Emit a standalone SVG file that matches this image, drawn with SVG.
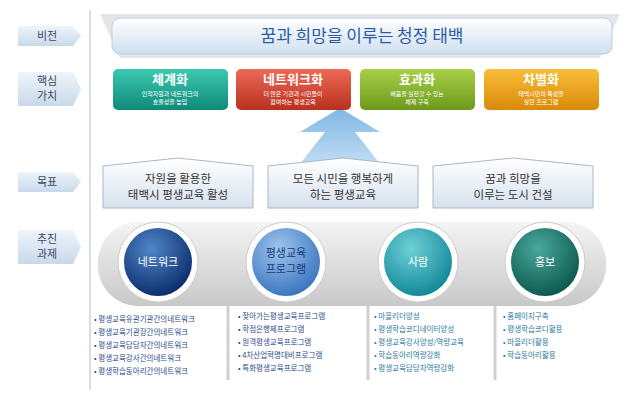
<svg xmlns="http://www.w3.org/2000/svg" width="631" height="400" viewBox="0 0 631 400">
<defs>
<linearGradient id="lab" x1="0" y1="0" x2="0" y2="1"><stop offset="0" stop-color="#eef4fa"/><stop offset="1" stop-color="#c9d9ea"/></linearGradient>
<linearGradient id="vis" x1="0" y1="0" x2="0" y2="1"><stop offset="0" stop-color="#ffffff"/><stop offset="1" stop-color="#cfdff0"/></linearGradient>
<linearGradient id="g1" x1="0" y1="0" x2="0" y2="1"><stop offset="0" stop-color="#3cc9b0"/><stop offset="1" stop-color="#0e8a78"/></linearGradient>
<linearGradient id="g2" x1="0" y1="0" x2="0" y2="1"><stop offset="0" stop-color="#ee6a55"/><stop offset="1" stop-color="#b8301f"/></linearGradient>
<linearGradient id="g3" x1="0" y1="0" x2="0" y2="1"><stop offset="0" stop-color="#a8d048"/><stop offset="1" stop-color="#6c9a1c"/></linearGradient>
<linearGradient id="g4" x1="0" y1="0" x2="0" y2="1"><stop offset="0" stop-color="#f8be3a"/><stop offset="1" stop-color="#d98a08"/></linearGradient>
<linearGradient id="arr" x1="0" y1="1" x2="0" y2="0"><stop offset="0" stop-color="#ffffff"/><stop offset="1" stop-color="#7fb6e6"/></linearGradient>
<linearGradient id="goal" x1="0" y1="0" x2="0" y2="1"><stop offset="0" stop-color="#ffffff"/><stop offset="1" stop-color="#d7e2ee"/></linearGradient>
<linearGradient id="plat" x1="0" y1="0" x2="0" y2="1"><stop offset="0" stop-color="#f4f4f4"/><stop offset="1" stop-color="#c8c8c8"/></linearGradient>
<radialGradient id="c1" cx="0.4" cy="0.3" r="0.7"><stop offset="0" stop-color="#4f86c8"/><stop offset="1" stop-color="#0d2f6e"/></radialGradient>
<radialGradient id="c2" cx="0.4" cy="0.3" r="0.7"><stop offset="0" stop-color="#9fc4ec"/><stop offset="1" stop-color="#3c78c0"/></radialGradient>
<radialGradient id="c3" cx="0.4" cy="0.3" r="0.7"><stop offset="0" stop-color="#6fd0d8"/><stop offset="1" stop-color="#148a9a"/></radialGradient>
<radialGradient id="c4" cx="0.4" cy="0.3" r="0.7"><stop offset="0" stop-color="#4aa89a"/><stop offset="1" stop-color="#0d5a50"/></radialGradient>
</defs>
<style>
text{font-family:"Noto Sans CJK KR","Noto Sans",sans-serif}
.lt{font-size:11px;fill:#3a4a6a;text-anchor:middle}
.vt{font-size:13px;font-weight:bold;fill:#fff;text-anchor:middle}
.vs{font-size:6px;fill:#fff;text-anchor:middle}
.gt{font-size:11.5px;fill:#333;text-anchor:middle}
.ct{font-size:11px;fill:#fff;text-anchor:middle}
.li{font-size:7.5px;fill:#2a4a8a}
.li2{font-size:7.5px;fill:#2a7a9a}
</style>
<rect width="631" height="400" fill="#fff"/>
<g id="labels">
<path d="M18,26 h55 l8,10 l-8,10 h-55 z" fill="url(#lab)"/><text class="lt" x="47" y="40">비전</text>
<path d="M18,72 h55 l8,17 l-8,17 h-55 z" fill="url(#lab)"/><text class="lt" x="47" y="85">핵심</text><text class="lt" x="47" y="100">가치</text>
<path d="M18,172 h55 l8,10 l-8,10 h-55 z" fill="url(#lab)"/><text class="lt" x="47" y="186">목표</text>
<path d="M18,230 h55 l8,17 l-8,17 h-55 z" fill="url(#lab)"/><text class="lt" x="47" y="243">추진</text><text class="lt" x="47" y="258">과제</text>
<line x1="90" y1="10" x2="90" y2="390" stroke="#c8d4e2" stroke-width="1.5"/>
</g>
<g id="vision">
<path d="M100,14 L620,14 L600,58 L120,58 Z" fill="#e6e6e6"/>
<rect x="112" y="18" width="500" height="36" rx="8" fill="url(#vis)" stroke="#b8cde4"/>
<text x="362" y="42" font-size="17" fill="#2a5aa8" text-anchor="middle">꿈과 희망을 이루는 청정 태백</text>
</g>
<g id="arrow">
<path d="M260,215 L325,132 L300,132 L340,108 L380,132 L355,132 L420,215 Z" fill="url(#arr)"/>
</g>
<g id="values">
<rect x="113" y="69" width="115" height="41" rx="5" fill="url(#g1)"/><text class="vt" x="170" y="84">체계화</text><text class="vs" x="170" y="96">인적자원과 네트워크의</text><text class="vs" x="170" y="104">효율성을 높임</text>
<rect x="236" y="69" width="115" height="41" rx="5" fill="url(#g2)"/><text class="vt" x="293" y="84">네트워크화</text><text class="vs" x="293" y="96">더 많은 기관과 시민들이</text><text class="vs" x="293" y="104">참여하는 평생교육</text>
<rect x="360" y="69" width="115" height="41" rx="5" fill="url(#g3)"/><text class="vt" x="417" y="84">효과화</text><text class="vs" x="417" y="96">배움을 실천할 수 있는</text><text class="vs" x="417" y="104">체제 구축</text>
<rect x="484" y="69" width="115" height="41" rx="5" fill="url(#g4)"/><text class="vt" x="541" y="84">차별화</text><text class="vs" x="541" y="96">태백시민의 특성을</text><text class="vs" x="541" y="104">살린 프로그램</text>
</g>
<g id="goals">
<path d="M103,166 L178,158 L253,166 L253,208 L103,208 Z" fill="url(#goal)" stroke="#aab8c8"/>
<text class="gt" x="178" y="183">자원을 활용한</text><text class="gt" x="178" y="199">태백시 평생교육 활성</text>
<path d="M268,166 L343,158 L418,166 L418,208 L268,208 Z" fill="url(#goal)" stroke="#aab8c8"/>
<text class="gt" x="343" y="183">모든 시민을 행복하게</text><text class="gt" x="343" y="199">하는 평생교육</text>
<path d="M433,166 L513,158 L593,166 L593,208 L433,208 Z" fill="url(#goal)" stroke="#aab8c8"/>
<text class="gt" x="513" y="183">꿈과 희망을</text><text class="gt" x="513" y="199">이루는 도시 건설</text>
</g>
<g id="platform">
<rect x="98" y="222" width="508" height="84" rx="40" fill="url(#plat)"/>
<line x1="228" y1="306" x2="228" y2="380" stroke="#d0d0d0" stroke-width="3"/>
<line x1="368" y1="306" x2="368" y2="380" stroke="#d0d0d0" stroke-width="3"/>
<line x1="495" y1="306" x2="495" y2="380" stroke="#d0d0d0" stroke-width="3"/>
</g>
<g id="n1"><circle cx="158" cy="262" r="40" fill="#fff" stroke="#ccc"/><circle cx="158" cy="262" r="34" fill="url(#c1)"/><text class="ct" x="158" y="266">네트워크</text></g>
<g id="n2"><circle cx="286" cy="262" r="40" fill="#fff" stroke="#ccc"/><circle cx="286" cy="262" r="34" fill="url(#c2)"/><text class="ct" x="286" y="257" style="fill:#1a3a7a">평생교육</text><text class="ct" x="286" y="273" style="fill:#1a3a7a">프로그램</text></g>
<g id="n3"><circle cx="418" cy="262" r="40" fill="#fff" stroke="#ccc"/><circle cx="418" cy="262" r="34" fill="url(#c3)"/><text class="ct" x="418" y="266">사람</text></g>
<g id="n4"><circle cx="545" cy="262" r="40" fill="#fff" stroke="#ccc"/><circle cx="545" cy="262" r="34" fill="url(#c4)"/><text class="ct" x="545" y="266">홍보</text></g>
<g id="lists">
<text class="li" x="94" y="322">• 평생교육유관기관간의네트워크</text>
<text class="li" x="94" y="335">• 평생교육기관장간의네트워크</text>
<text class="li" x="94" y="348">• 평생교육담당자간의네트워크</text>
<text class="li" x="94" y="361">• 평생교육강사간의네트워크</text>
<text class="li" x="94" y="374">• 평생학습동아리간의네트워크</text>
<text class="li" x="238" y="319">• 찾아가는평생교육프로그램</text>
<text class="li" x="238" y="332">• 학점은행제프로그램</text>
<text class="li" x="238" y="345">• 원격평생교육프로그램</text>
<text class="li" x="238" y="358">• 4차산업혁명대비프로그램</text>
<text class="li" x="238" y="371">• 특화평생교육프로그램</text>
<text class="li2" x="374" y="319">• 마을리더양성</text>
<text class="li2" x="374" y="332">• 평생학습코디네이터양성</text>
<text class="li2" x="374" y="345">• 평생교육강사양성/역량교육</text>
<text class="li2" x="374" y="358">• 학습동아리역량강화</text>
<text class="li2" x="374" y="371">• 평생교육담당자역량강화</text>
<text class="li2" x="503" y="319">• 홈페이지구축</text>
<text class="li2" x="503" y="332">• 평생학습코디활용</text>
<text class="li2" x="503" y="345">• 마을리더활용</text>
<text class="li2" x="503" y="358">• 학습동아리활용</text>
</g>
</svg>
